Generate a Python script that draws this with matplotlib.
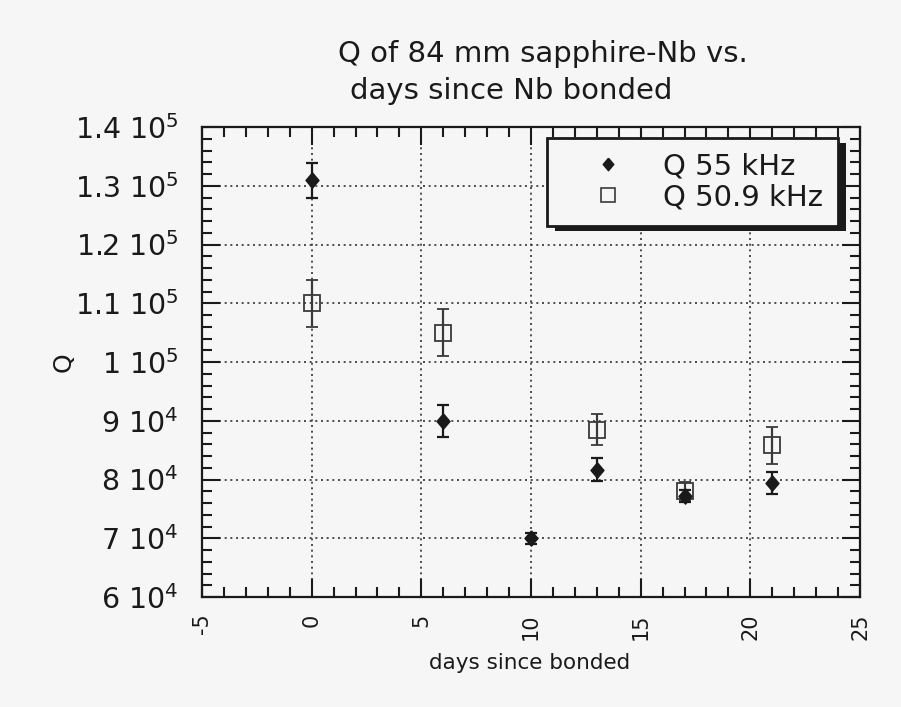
import matplotlib
matplotlib.use("Agg")
import matplotlib.pyplot as plt
from matplotlib.lines import Line2D
from matplotlib.patches import Rectangle
from matplotlib.ticker import MultipleLocator

# Q at 55 kHz (filled diamonds)
days_55 = [0, 6, 10, 13, 17, 21]
q_55 = [130900, 90000, 70000, 81700, 77200, 79400]
err_55 = [3000, 2700, 900, 1900, 1000, 1900]

# Q at 50.9 kHz (open squares)
days_509 = [0, 6, 13, 17, 21]
q_509 = [110000, 105000, 88500, 78000, 85800]
err_509 = [4000, 4000, 2600, 1500, 3100]

ytick_vals = [60000, 70000, 80000, 90000, 100000, 110000, 120000, 130000, 140000]
ytick_labels = [r"6 10$^4$", r"7 10$^4$", r"8 10$^4$", r"9 10$^4$", r"1 10$^5$",
                r"1.1 10$^5$", r"1.2 10$^5$", r"1.3 10$^5$", r"1.4 10$^5$"]
xtick_vals = [-5, 0, 5, 10, 15, 20, 25]

# slightly tall diamond
diamond = [(0, 1), (0.85, 0), (0, -1), (-0.85, 0), (0, 1)]

bg = "#f6f6f6"
ink = "#1a1a1a"
fig = plt.figure(figsize=(9.01, 7.07), dpi=100, facecolor=bg)
ax = fig.add_axes([202 / 901, 1 - 597 / 707, 658 / 901, 470 / 707])
ax.set_facecolor(bg)

ax.errorbar(days_509, q_509, yerr=err_509, fmt="s", ms=11.5, mfc="none", mec="#3a3a3a",
            mew=1.3, ecolor="#3a3a3a", elinewidth=1.6, capsize=4, capthick=1.6, zorder=3)
ax.errorbar(days_55, q_55, yerr=err_55, fmt="none", ecolor=ink, elinewidth=1.6,
            capsize=4, capthick=1.6, zorder=4)
ax.plot(days_55, q_55, linestyle="none", marker=diamond, ms=11, color=ink, zorder=5)

ax.set_xlim(-5, 25)
ax.set_ylim(60000, 140000)
ax.xaxis.set_minor_locator(MultipleLocator(1))
ax.yaxis.set_minor_locator(MultipleLocator(2000))
ax.set_xticks(xtick_vals)
ax.set_xticklabels([str(v) for v in xtick_vals], rotation=90, fontsize=15,
                   va="top", ha="center")
ax.set_yticks(ytick_vals)
ax.set_yticklabels(ytick_labels, fontsize=20.5)

ax.tick_params(which="both", direction="in", top=True, right=True, width=1.5,
               color=ink, labelcolor=ink)
ax.tick_params(which="major", length=13)
ax.tick_params(which="minor", length=7)
ax.tick_params(axis="y", pad=17)
ax.tick_params(axis="x", pad=12)
for s in ax.spines.values():
    s.set_linewidth(1.6)
    s.set_color(ink)

ax.grid(True, which="major", linestyle=(0, (1.2, 2.2)), color="#333333", linewidth=1.2)

ax.set_xlabel("days since bonded", fontsize=15.5, color=ink)
ax.xaxis.set_label_coords((430 + 630) / 2 / 658 - 202 / 658, -(653 - 597) / 470)
ax.set_ylabel("Q", fontsize=18, color=ink)
ax.yaxis.set_label_coords(-(202 - 76) / 658, 0.5)

fig.text(338 / 901, 1 - 62 / 707, "Q of 84 mm sapphire-Nb vs.", fontsize=21,
         ha="left", va="baseline", color=ink)
fig.text(350 / 901, 1 - 99 / 707, "days since Nb bonded", fontsize=21,
         ha="left", va="baseline", color=ink)

handles = [
    Line2D([], [], marker=diamond, ms=9, color=ink, linestyle="none"),
    Line2D([], [], marker="s", ms=9.5, mfc="none", mec="#3a3a3a", mew=1.2, linestyle="none"),
]
leg = ax.legend(handles, ["Q 55 kHz", "Q 50.9 kHz"], loc="upper right",
                bbox_to_anchor=(1 - (860 - 838) / 658, 1 - (138 - 127) / 470),
                borderaxespad=0, fontsize=21, frameon=True, fancybox=False,
                edgecolor=ink, facecolor=bg, framealpha=1, handlelength=3.2,
                handletextpad=0.3, borderpad=0.5, labelspacing=0.1)
leg.get_frame().set_linewidth(2)
leg.set_zorder(7)
for t in leg.get_texts():
    t.set_color(ink)

# solid drop shadow behind the legend box
fig.canvas.draw()
bb = leg.get_window_extent()
shadow = Rectangle((bb.x0 + 8, bb.y0 - 5), bb.width, bb.height, transform=None,
                   facecolor=ink, edgecolor="none", zorder=6.5, clip_on=False)
ax.add_patch(shadow)

fig.savefig("out.png", dpi=100, facecolor=bg)
